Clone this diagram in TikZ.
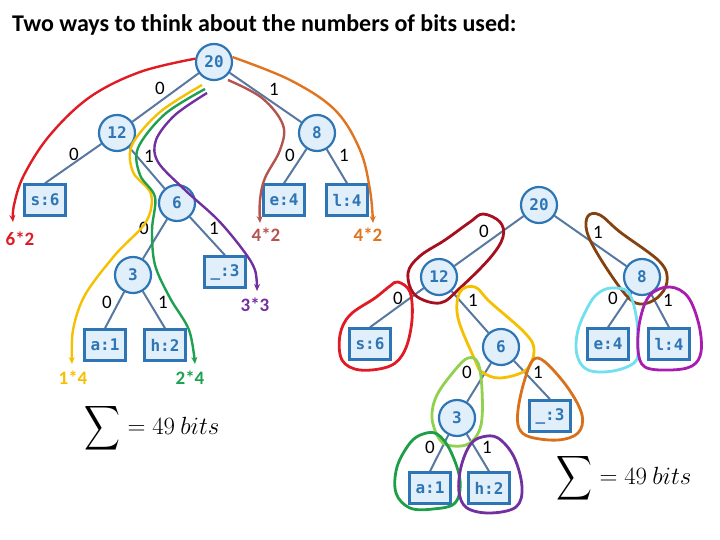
\documentclass[tikz,border=0pt]{standalone}
\usepackage{amsmath}
\usepackage{exscale}
\usepackage[no-math]{fontspec}
\setmainfont{Carlito}
\newfontfamily\monof{DejaVu Sans Mono}
\usetikzlibrary{arrows.meta,backgrounds,calc}
\definecolor{nblue}{HTML}{2E75B6}
\definecolor{nfill}{HTML}{E0EFF9}
\definecolor{edgec}{HTML}{5878A0}
\definecolor{cRed}{HTML}{E01B24}
\definecolor{cRose}{HTML}{B5534F}
\definecolor{cOrange}{HTML}{E07420}
\definecolor{cYellow}{HTML}{F5C000}
\definecolor{cGreen}{HTML}{1FA050}
\definecolor{cPurple}{HTML}{7030A0}
\definecolor{cDRed}{HTML}{A50F1E}
\definecolor{cBrown}{HTML}{83420F}
\definecolor{cCyan}{HTML}{70E0F0}
\definecolor{cMagenta}{HTML}{A81CB0}
\definecolor{cLGreen}{HTML}{92D050}
\definecolor{cOrange2}{HTML}{D8701C}
\definecolor{cGreen2}{HTML}{1E9E46}
\tikzset{
  tnode/.style={circle, draw=nblue, fill=nfill, line width=2.2pt, minimum size=36pt, inner sep=0pt,
    font=\monof\bfseries\fontsize{16}{16}\selectfont, text=nblue},
  leaf/.style={rectangle, draw=nblue, fill=nfill, line width=2.5pt, minimum width=41pt, minimum height=31pt, inner sep=0pt,
    font=\monof\bfseries\fontsize{16}{16}\selectfont, text=nblue},
  tedge/.style={draw=edgec, line width=2pt},
  bitlab/.style={font=\fontsize{19}{19}\selectfont, text=black, inner sep=1pt},
  cntlab/.style={font=\bfseries\fontsize{19}{19}\selectfont, inner sep=1pt},
  carrow/.style={line width=2.4pt, -{Stealth[length=7pt,width=6pt]}},
  ring/.style={line width=2.8pt},
  sumlab/.style={font=\fontsize{23}{27}\selectfont, inner sep=0pt}
}
\begin{document}
\begin{tikzpicture}[x=1pt,y=-1pt]
\useasboundingbox (0,0) rectangle (720,540);
\node[font=\bfseries\fontsize{24}{28}\selectfont, anchor=west, inner sep=0pt] (title) at (12,25) {Two ways to think about the numbers of bits used:};

% ---------- left tree ----------
\node[tnode] (L20) at (214,62) {20};
\node[tnode] (L12) at (117,133) {12};
\node[tnode] (L8) at (317,133) {8};
\node[leaf] (Ls6) at (45,200) {s:6};
\node[tnode] (L6) at (177,203) {6};
\node[leaf] (Le4) at (284,200) {e:4};
\node[leaf] (Ll4) at (347,200) {l:4};
\node[tnode] (L3) at (133,275) {3};
\node[leaf] (Lu3) at (225,272) {\_:3};
\node[leaf] (La1) at (105,345) {a:1};
\node[leaf] (Lh2) at (165,345) {h:2};
\begin{scope}[on background layer]
\draw[tedge] (L20) -- (L12);
\draw[tedge] (L20) -- (L8);
\draw[tedge] (L12) -- (Ls6.north);
\draw[tedge] (L12) -- (L6);
\draw[tedge] (L8) -- (Le4.north);
\draw[tedge] (L8) -- (Ll4.north);
\draw[tedge] (L6) -- (L3);
\draw[tedge] (L6) -- (Lu3.north);
\draw[tedge] (L3) -- (La1.north);
\draw[tedge] (L3) -- (Lh2.north);
\end{scope}
\node[bitlab] (lb1) at (160,88) {0};
\node[bitlab] (lb2) at (274,89) {1};
\node[bitlab] (lb3) at (74,154) {0};
\node[bitlab] (lb4) at (149,156) {1};
\node[bitlab] (lb5) at (290,155) {0};
\node[bitlab] (lb6) at (344,155) {1};
\node[bitlab] (lb7) at (144,228) {0};
\node[bitlab] (lb8) at (214,228) {1};
\node[bitlab] (lb9) at (107,302) {0};
\node[bitlab] (lb10) at (163,302) {1};

% count labels
\node[cntlab, text=cRed] (c62) at (20,239) {6*2};
\node[cntlab, text=cRose] (c42a) at (266,235) {4*2};
\node[cntlab, text=cOrange] (c42b) at (368,235) {4*2};
\node[cntlab, text=cPurple] (c33) at (255,305) {3*3};
\node[cntlab, text=cYellow] (c14) at (73,378) {1*4};
\node[cntlab, text=cGreen] (c24) at (190,378) {2*4};

\coordinate (e62) at (13,222);
\coordinate (e42a) at (260,223);
\coordinate (e42b) at (373,223);
\coordinate (e33) at (257,291);
\coordinate (e14) at (72,364);
\coordinate (e24) at (195,364);

\draw[carrow, cRed] plot[smooth, tension=0.6] coordinates {(L20.170) (140,72) (90,97) (50,135) (24,175) (14,205) (e62)};
\draw[carrow, cRose] plot[smooth, tension=0.6] coordinates {(228,80) (262,98) (283,125) (280,150) (265,178) (260,200) (e42a)};
\draw[carrow, cOrange] plot[smooth, tension=0.6] coordinates {(L20.15) (290,80) (335,110) (360,150) (370,190) (e42b)};
\draw[carrow, cYellow] plot[smooth, tension=0.55] coordinates {(202,85) (160,112) (132,145) (133,172) (151,194) (146,222) (115,255) (85,295) (73,330) (e14)};
\draw[carrow, cGreen] plot[smooth, tension=0.55] coordinates {(205,89) (165,114) (138,148) (140,175) (155,197) (152,230) (155,265) (170,298) (189,330) (e24)};
\draw[carrow, cPurple] plot[smooth, tension=0.55] coordinates {(207,93) (175,115) (156,140) (158,162) (185,190) (218,220) (243,250) (255,270) (e33)};

\node[sumlab] (sumL) at (152,428) {$\displaystyle\vcenter{\hbox{\scalebox{1}[1.25]{$\displaystyle\sum$}}} = 49\ bits$};

% ---------- right tree ----------
\node[tnode] (R20) at (539,205) {20};
\node[tnode] (R12) at (439,277) {12};
\node[tnode] (R8) at (642,277) {8};
\node[leaf] (Rs6) at (370,344) {s:6};
\node[tnode] (R6) at (501,347) {6};
\node[leaf] (Re4) at (608,344) {e:4};
\node[leaf] (Rl4) at (669,344) {l:4};
\node[tnode] (R3) at (457,418) {3};
\node[leaf] (Ru3) at (550,416) {\_:3};
\node[leaf] (Ra1) at (430,488) {a:1};
\node[leaf] (Rh2) at (489,488) {h:2};
\begin{scope}[on background layer]
\draw[tedge] (R20) -- (R12);
\draw[tedge] (R20) -- (R8);
\draw[tedge] (R12) -- (Rs6.north);
\draw[tedge] (R12) -- (R6);
\draw[tedge] (R8) -- (Re4.north);
\draw[tedge] (R8) -- (Rl4.north);
\draw[tedge] (R6) -- (R3);
\draw[tedge] (R6) -- (Ru3.north);
\draw[tedge] (R3) -- (Ra1.north);
\draw[tedge] (R3) -- (Rh2.north);
\end{scope}
\node[bitlab] (rb1) at (484,231) {0};
\node[bitlab] (rb2) at (598,232) {1};
\node[bitlab] (rb3) at (398,298) {0};
\node[bitlab] (rb4) at (473,300) {1};
\node[bitlab] (rb5) at (613,298) {0};
\node[bitlab] (rb6) at (668,300) {1};
\node[bitlab] (rb7) at (467,372) {0};
\node[bitlab] (rb8) at (538,372) {1};
\node[bitlab] (rb9) at (430,447) {0};
\node[bitlab] (rb10) at (487,447) {1};

% rings
\draw[ring, cDRed] plot[smooth cycle, tension=0.6] coordinates {(483,214) (500,222) (503,237) (490,258) (460,288) (440,303) (415,295) (408,273) (420,256) (445,240) (470,222)};
\draw[ring, cRed] plot[smooth cycle, tension=0.6] coordinates {(398,282) (410,292) (412,320) (405,350) (390,366) (360,370) (342,360) (340,335) (350,315) (375,298) (390,286)};
\draw[ring, cYellow] plot[smooth cycle, tension=0.6] coordinates {(460,292) (475,287) (490,302) (525,333) (534,350) (526,370) (500,378) (482,372) (475,360) (458,318)};
\draw[ring, cBrown] plot[smooth cycle, tension=0.6] coordinates {(588,216) (600,215) (620,232) (660,262) (667,282) (657,298) (640,304) (625,294) (600,258) (587,232)};
\draw[ring, cCyan] plot[smooth cycle, tension=0.6] coordinates {(612,288) (628,292) (636,315) (638,345) (635,362) (613,371) (588,370) (577,355) (578,330) (590,303) (600,292)};
\draw[ring, cMagenta] plot[smooth cycle, tension=0.6] coordinates {(670,287) (688,297) (699,325) (701,352) (692,366) (670,370) (645,367) (638,350) (640,320) (650,295)};
\draw[ring, cLGreen] plot[smooth cycle, tension=0.6] coordinates {(468,358) (478,363) (482,390) (481,425) (470,443) (453,446) (440,440) (432,418) (437,395) (455,370)};
\draw[ring, cOrange2] plot[smooth cycle, tension=0.6] coordinates {(533,360) (545,362) (568,388) (582,415) (578,433) (558,440) (530,437) (519,428) (518,410) (524,382)};
\draw[ring, cGreen2] plot[smooth cycle, tension=0.6] coordinates {(423,434) (437,434) (450,450) (460,480) (455,503) (433,509) (410,508) (396,493) (397,467) (410,443)};
\draw[ring, cPurple] plot[smooth cycle, tension=0.6] coordinates {(482,437) (498,438) (514,457) (522,487) (516,507) (490,513) (467,508) (459,492) (461,467) (470,445)};

\node[sumlab] (sumR) at (624,478) {$\displaystyle\vcenter{\hbox{\scalebox{1}[1.25]{$\displaystyle\sum$}}} = 49\ bits$};
\end{tikzpicture}
\end{document}
